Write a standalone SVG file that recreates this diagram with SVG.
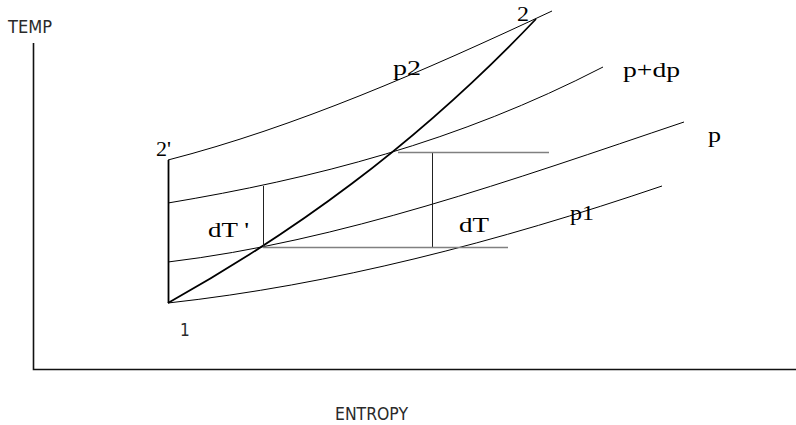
<svg xmlns="http://www.w3.org/2000/svg" width="796" height="425" viewBox="0 0 796 425">
<style>
.axis{stroke:#111;stroke-width:1.6;fill:none}
.curve{stroke:#000;stroke-width:1;fill:none}
.thick{stroke:#000;stroke-width:1.8;fill:none}
.thin{stroke:#222;stroke-width:1;fill:none}
.gray{stroke:#808080;stroke-width:1.3;fill:none}
.sans{font-family:"DejaVu Sans Condensed","DejaVu Sans",sans-serif;font-size:17px;fill:#2a2a2a}
.serif{font-family:"Liberation Serif","Times New Roman",serif;font-size:20px;fill:#000}
</style>
<rect width="796" height="425" fill="#fff"/>
<g id="axes">
<polyline class="axis" points="33.5,43 33.5,369.5 796,369.5"/>
<text class="sans" x="8" y="33" textLength="44" lengthAdjust="spacingAndGlyphs">TEMP</text>
<text class="sans" x="335" y="420" textLength="73" lengthAdjust="spacingAndGlyphs">ENTROPY</text>
</g>
<g id="isobars">
<path id="p2" class="curve" d="M168,160 C296,127 424,71 552,11"/>
<path id="pdp" class="curve" d="M168,203 C313,178.8 458,142 603,67"/>
<path id="p" class="curve" d="M168,262 C340,241.4 512,180 684,122"/>
<path id="p1" class="curve" d="M168,303 C332.7,284.9 497.3,242 662,186"/>
</g>
<g id="connectors">
<path class="thick" d="M168,303 C290.7,234.3 413.3,147.8 536,19"/>
<line class="thick" x1="168.5" y1="160" x2="168.5" y2="303"/>
<line class="thin" x1="263.5" y1="186" x2="263.5" y2="247"/>
<line class="thin" x1="432.5" y1="152.5" x2="432.5" y2="247.5"/>
<line class="gray" x1="398" y1="152.5" x2="549" y2="152.5"/>
<line class="gray" x1="263" y1="247.5" x2="508" y2="247.5"/>
</g>
<g id="labels">
<text class="serif" x="156" y="155.5" font-size="19" textLength="15" lengthAdjust="spacingAndGlyphs">2'</text>
<text class="sans" x="180" y="336" font-size="18">1</text>
<text class="serif" x="517" y="20.5" font-size="19" textLength="12" lengthAdjust="spacingAndGlyphs">2</text>
<text class="serif" x="393" y="75" textLength="28" lengthAdjust="spacingAndGlyphs">p2</text>
<text class="serif" x="623" y="77" textLength="57" lengthAdjust="spacingAndGlyphs">p+dp</text>
<text class="serif" x="708" y="142" textLength="13" lengthAdjust="spacingAndGlyphs">p</text>
<text class="serif" x="570" y="220" textLength="24" lengthAdjust="spacingAndGlyphs">p1</text>
<text class="serif" x="208" y="237" font-size="19" textLength="41" lengthAdjust="spacingAndGlyphs">dT '</text>
<text class="serif" x="459" y="231.5" font-size="21" textLength="30" lengthAdjust="spacingAndGlyphs">dT</text>
</g>
</svg>
